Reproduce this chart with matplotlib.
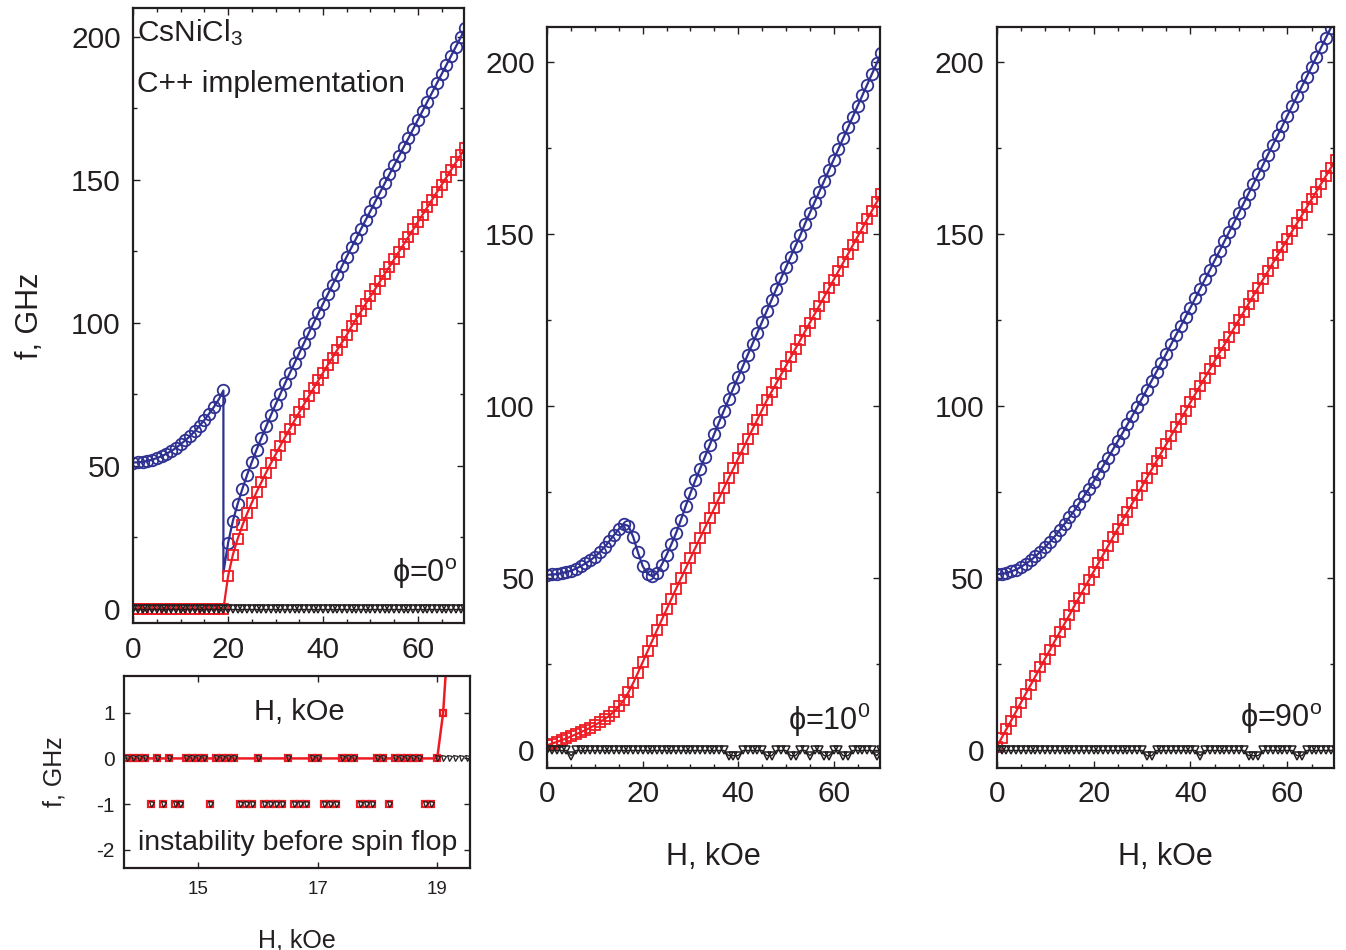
import numpy as np
import matplotlib
matplotlib.use('Agg')
from matplotlib import pyplot as plt
from matplotlib.ticker import MultipleLocator

plt.rcParams['font.family'] = ['Liberation Sans', 'DejaVu Sans']
plt.rcParams['mathtext.fontset'] = 'custom'
plt.rcParams['mathtext.rm'] = 'Liberation Sans'
plt.rcParams['mathtext.it'] = 'Liberation Sans:italic'
plt.rcParams['axes.unicode_minus'] = False

BLUE = '#2e3192'
RED = '#ed1c24'
INK = '#231f20'

# field grid, kOe
H = np.arange(0, 71)

# phi = 0 : blue branch jumps at the spin flop (~19 kOe)
blue0_low = [51.2, 51.3, 51.4, 51.8, 52.2, 52.8, 53.4, 54.3, 55.2, 56.3,
             57.6, 59.0, 60.5, 62.2, 64.1, 66.1, 68.3, 70.6, 73.2, 76.4]
blue0_drop = 12.7
blue0_high = [23.2, 30.8, 36.7, 42.0, 46.9, 51.4, 55.7, 59.8, 63.8, 67.7,
              71.5, 75.2, 78.9, 82.5, 86.0, 89.5, 93.0, 96.5, 99.9, 103.3,
              106.7, 110.0, 113.3, 116.6, 119.9, 123.2, 126.4, 129.6, 132.8, 136.0,
              139.2, 142.4, 145.6, 148.8, 152.0, 155.1, 158.3, 161.5, 164.6, 167.8,
              171.0, 174.2, 177.4, 180.6, 183.8, 187.0, 190.2, 193.4, 196.6, 199.8,
              203.0]
red0 = [0, 0, 0, 0, 0, 0, 0, 0, 0, 0,
        0, 0, 0, 0, 0, 0, 0, 0, 0, 0,
        11.6, 19.0, 24.5, 29.2, 33.4, 37.2, 40.9, 44.3, 47.7, 50.9,
        54.0, 57.1, 60.1, 63.0, 65.9, 68.8, 71.6, 74.4, 77.1, 79.9,
        82.6, 85.3, 87.9, 90.6, 93.2, 95.8, 98.8, 101.4, 104.0, 106.7,
        109.3, 111.9, 114.5, 117.1, 119.7, 122.3, 124.9, 127.5, 130.1, 132.7,
        135.3, 137.9, 140.5, 143.1, 145.7, 148.3, 150.9, 153.5, 156.1, 158.7,
        161.3]
black0 = [0] * 71

# phi = 10
blue10 = [51.0, 51.1, 51.2, 51.5, 51.8, 52.2, 52.8, 53.5, 54.3, 55.2,
          56.3, 57.6, 59.1, 60.8, 62.6, 64.3, 65.7, 65.2, 62.0, 57.5,
          53.5, 51.3, 50.6, 51.5, 54.0, 56.8, 59.9, 63.2, 67.0, 71.0,
          74.8, 78.4, 81.8, 85.2, 88.6, 92.0, 95.4, 98.7, 102.0, 105.3,
          108.5, 111.7, 114.9, 118.1, 121.3, 124.5, 127.7, 130.9, 134.1, 137.2,
          140.3, 143.4, 146.5, 149.6, 153.0, 156.1, 159.2, 162.3, 165.4, 168.5,
          171.6, 174.7, 177.8, 180.9, 184.0, 187.1, 190.2, 193.3, 196.4, 199.5,
          202.6]
red10 = [1.5, 2.0, 2.5, 3.0, 3.5, 4.1, 4.7, 5.3, 5.9, 6.6,
         7.4, 8.2, 9.1, 10.1, 11.3, 12.8, 14.6, 16.9, 19.6, 22.6,
         25.7, 28.8, 31.9, 35.0, 38.0, 41.0, 44.0, 47.0, 50.0, 52.9,
         55.9, 58.8, 61.7, 64.6, 67.5, 70.4, 73.3, 76.2, 79.1, 81.9,
         84.8, 87.6, 90.5, 93.3, 96.1, 98.9, 101.7, 104.2, 106.7, 109.2,
         111.7, 114.2, 116.7, 119.2, 121.7, 124.2, 126.7, 129.2, 131.7, 134.2,
         136.7, 139.2, 141.7, 144.2, 146.7, 149.2, 151.7, 154.2, 156.7, 159.2,
         161.7]
black10 = [0, 0, 0, 0, 0, -1.5, 0, 0, 0, 0,
           0, 0, 0, 0, 0, 0, 0, 0, 0, 0,
           0, 0, 0, 0, 0, 0, 0, 0, 0, 0,
           0, 0, 0, 0, 0, 0, 0, 0, -1.5, -1.5,
           -1.5, 0, 0, 0, 0, 0, -1.5, -1.5, 0, 0,
           0, -1.5, -1.5, 0, 0, -1.5, 0, 0, -1.5, -1.5,
           0, 0, -1.5, -1.5, 0, 0, 0, 0, 0, -1.5,
           0]

# phi = 90
blue90 = [51.2, 51.3, 51.5, 52.0, 52.5, 53.3, 54.2, 55.2, 56.4, 57.7,
          59.1, 60.6, 62.2, 64.0, 65.8, 67.7, 69.6, 71.7, 73.8, 75.9,
          78.1, 80.4, 82.7, 85.0, 87.4, 89.8, 92.2, 94.7, 97.2, 99.7,
          102.2, 104.8, 107.4, 110.0, 112.6, 115.2, 117.9, 120.6, 123.2, 125.9,
          128.6, 131.3, 134.1, 136.8, 139.5, 142.3, 145.0, 147.8, 150.6, 153.3,
          156.1, 158.9, 161.7, 164.5, 167.3, 170.1, 173.0, 175.8, 178.6, 181.4,
          184.3, 187.1, 189.9, 192.8, 195.6, 198.5, 201.3, 204.2, 207.0, 209.9,
          212.8]
red90 = [1.0, 3.6, 6.2, 8.7, 11.3, 13.9, 16.5, 19.0, 21.6, 24.1,
         26.7, 29.2, 31.8, 34.3, 36.8, 39.3, 41.9, 44.4, 46.9, 49.4,
         51.9, 54.4, 56.9, 59.4, 61.9, 64.4, 66.8, 69.3, 71.8, 74.2,
         76.7, 79.2, 81.6, 84.0, 86.5, 88.9, 91.4, 93.8, 96.2, 98.6,
         101.1, 103.5, 105.9, 108.3, 110.7, 113.1, 115.5, 117.8, 120.2, 122.6,
         125.0, 127.3, 129.7, 132.1, 134.4, 136.8, 139.1, 141.5, 143.8, 146.1,
         148.4, 150.8, 153.1, 155.4, 157.7, 160.0, 162.3, 164.6, 166.9, 169.2,
         171.5]
black90 = [0, 0, 0, 0, 0, 0, 0, 0, 0, 0,
           0, 0, 0, 0, 0, 0, 0, 0, 0, 0,
           0, 0, 0, 0, 0, 0, 0, 0, 0, 0,
           0, -1.5, -1.5, 0, 0, 0, 0, 0, 0, 0,
           0, 0, -1.5, 0, 0, 0, 0, 0, 0, 0,
           0, 0, -1.5, -1.5, -1.5, 0, 0, 0, 0, 0,
           0, 0, -1.5, -1.5, 0, 0, 0, 0, 0, 0,
           0]

# inset: zoom on 13.8 .. 19.5 kOe, -1 marks unstable solutions
H_in = np.round(np.arange(13.8, 19.55, 0.1), 1)
black_in = [0, 0, 0, 0, -1, 0, -1, 0, -1, -1,
            0, 0, 0, 0, -1, 0, 0, 0, 0, -1,
            -1, -1, 0, -1, -1, -1, -1, 0, -1, -1,
            -1, 0, 0, -1, -1, -1, 0, 0, 0, -1,
            -1, -1, 0, 0, -1, 0, 0, 0, 0, 0,
            -1, -1, 0, 0, 0, 0, 0, 0]
red_in_line = [0] * 53 + [1.0, 3.0]
red_in_marks = black_in[:53] + [1.0]


def style(ax, size=21.5, pad=9):
    ax.tick_params(which='both', direction='in', top=True, right=True,
                   labelsize=size, pad=pad, width=1.0, color=INK, labelcolor=INK)
    ax.tick_params(which='major', length=5)
    ax.tick_params(which='minor', length=3)
    for s in ax.spines.values():
        s.set_linewidth(1.6)
        s.set_color(INK)


def draw(ax, x, blue, red, black, blue_marks=None):
    ax.plot(x, blue, '-', color=BLUE, lw=1.6, marker='o', ms=8.3, mfc='none',
            mec=BLUE, mew=1.3, markevery=blue_marks)
    ax.plot(H, red, '-', color=RED, lw=1.6, marker='s', ms=7.2, mfc='none',
            mec=RED, mew=1.3)
    ax.plot(H, black, '-', color=INK, lw=1.0, marker='v', ms=5.4, mfc='none',
            mec=INK, mew=1.1)
    ax.set_xlim(0, 69.7)
    ax.set_ylim(-5, 210)
    ax.xaxis.set_major_locator(MultipleLocator(20))
    ax.xaxis.set_minor_locator(MultipleLocator(5))
    ax.yaxis.set_major_locator(MultipleLocator(50))
    ax.yaxis.set_minor_locator(MultipleLocator(25))
    style(ax)


fig = plt.figure(figsize=(13.46, 9.5), dpi=100)

axi = fig.add_axes([0.0924, 0.0860, 0.2568, 0.2024])
ax1 = fig.add_axes([0.0990, 0.3439, 0.2457, 0.6474])
ax2 = fig.add_axes([0.4066, 0.1919, 0.2472, 0.7794])
ax3 = fig.add_axes([0.7405, 0.1919, 0.2508, 0.7794])
ax1.set_zorder(3)

H0 = list(range(0, 20)) + [19] + list(range(20, 71))
blue0 = blue0_low + [blue0_drop] + blue0_high
marks0 = [i for i in range(len(H0)) if i != 20]
draw(ax1, H0, blue0, red0, black0, blue_marks=marks0)
draw(ax2, H, blue10, red10, black10)
draw(ax3, H, blue90, red90, black90)

# labels
ax1.set_ylabel('f, GHz', fontsize=22, color=INK)
ax1.yaxis.set_label_coords(-0.267, 0.50)
ax1.set_xlabel('H, kOe', fontsize=21, color=INK)
ax1.xaxis.set_label_coords(0.501, -0.122)
for ax in (ax2, ax3):
    ax.set_xlabel('H, kOe', fontsize=22, color=INK)
    ax.xaxis.set_label_coords(0.5, -0.100)

ax1.text(0.012, 0.9457, r'CsNiCl$_3$', transform=ax1.transAxes, fontsize=21.5,
         color=INK, ha='left', va='baseline')
ax1.text(0.012, 0.8644, 'C++ implementation', transform=ax1.transAxes, fontsize=21.5,
         color=INK, ha='left', va='baseline')

phi_kw = dict(fontsize=22, color=INK, ha='right', va='baseline')
ax1.text(0.978, 0.0676, r'ϕ=0$^{\rm o}$', transform=ax1.transAxes, **phi_kw)
ax2.text(0.970, 0.0509, r'ϕ=10$^{\rm 0}$', transform=ax2.transAxes, **phi_kw)
ax3.text(0.963, 0.0554, r'ϕ=90$^{\rm o}$', transform=ax3.transAxes, **phi_kw)

# inset
axi.plot(H_in[:55], red_in_line, '-', color=RED, lw=1.8)
axi.plot(H_in[:54], red_in_marks, 'none', marker='s', ms=4.0, mfc='none', mec=RED, mew=1.6)
axi.plot(H_in, black_in, 'none', marker='v', ms=3.6, mfc='none', mec=INK, mew=0.9)
axi.set_xlim(13.76, 19.55)
axi.set_ylim(-2.4, 1.8)
axi.set_xticks([15, 17, 19])
axi.set_yticks([-2, -1, 0, 1])
style(axi, size=15, pad=7)
axi.tick_params(axis='x', labelsize=13.5, pad=9)
axi.tick_params(which='major', length=4)
axi.set_xlabel('H, kOe', fontsize=18, color=INK)
axi.xaxis.set_label_coords(0.4986, -0.312)
axi.set_ylabel('f, GHz', fontsize=18, color=INK)
axi.yaxis.set_label_coords(-0.1666, 0.502)
axi.text(0.5, 0.095, 'instability before spin flop', transform=axi.transAxes,
         fontsize=20.5, color=INK, ha='center', va='baseline')

fig.savefig('out.png', dpi=100)
plt.close(fig)
